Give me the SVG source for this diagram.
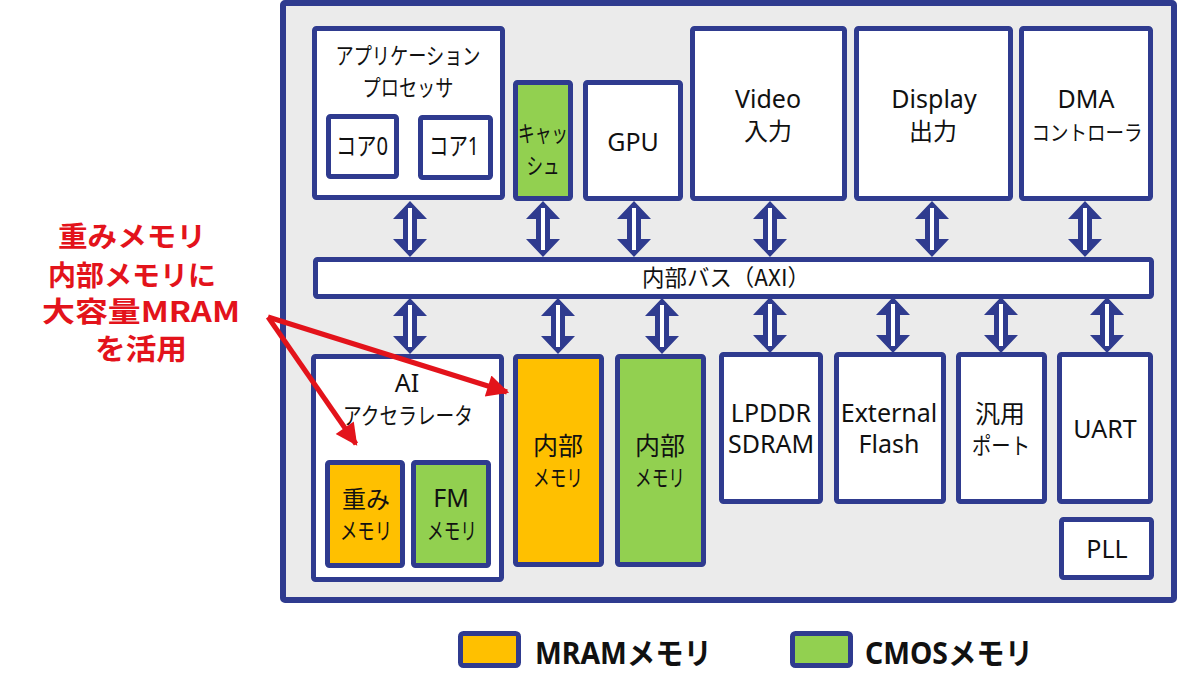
<svg xmlns="http://www.w3.org/2000/svg" width="1179" height="689" viewBox="0 0 1179 689">
<style>
.box{fill:#ffffff;stroke:#2f3b8f;stroke-width:5;}
.org{fill:#ffc000;stroke:#2f3b8f;stroke-width:5;}
.grn{fill:#92d050;stroke:#2f3b8f;stroke-width:5;}
.t{font-family:"Noto Sans","Noto Sans CJK JP",sans-serif;font-size:25px;fill:#111;text-anchor:middle;}
.k{font-family:"Noto Sans CJK JP","Noto Sans",sans-serif;font-size:23px;fill:#111;text-anchor:middle;}
.red{font-family:"Noto Sans CJK JP","Noto Sans",sans-serif;font-weight:700;font-size:28px;fill:#e3131b;text-anchor:middle;}
.leg{font-family:"Noto Sans","Noto Sans CJK JP",sans-serif;font-weight:700;font-size:30px;fill:#111;}
.ra{stroke:#e3131b;stroke-width:5;fill:none;}
</style>
<defs>
<g id="dbl">
<path d="M0,0 L17,18 L7,18 L7,38 L17,38 L0,56 L-17,38 L-7,38 L-7,18 L-17,18 Z" fill="#2f3b8f"/>
<rect x="-2" y="7" width="4" height="42" fill="#ffffff"/>
</g>
<marker id="rh" viewBox="0 0 10 10" refX="9" refY="5" markerWidth="24" markerHeight="22" markerUnits="userSpaceOnUse" orient="auto">
<path d="M0,0 L10,5 L0,10 Z" fill="#e3131b"/>
</marker>
</defs>
<rect id="chip" x="283" y="3" width="891" height="597" fill="#ebebeb" stroke="#2f3b8f" stroke-width="6" rx="2"/>

<g id="connectors">
<use href="#dbl" x="410" y="201"/>
<use href="#dbl" x="543" y="201"/>
<use href="#dbl" x="634" y="201"/>
<use href="#dbl" x="770" y="201"/>
<use href="#dbl" x="932" y="201"/>
<use href="#dbl" x="1085" y="201"/>
<use href="#dbl" x="410" y="298"/>
<use href="#dbl" x="558" y="298"/>
<use href="#dbl" x="662" y="298"/>
<use href="#dbl" x="770" y="297"/>
<use href="#dbl" x="893" y="297"/>
<use href="#dbl" x="1001" y="297"/>
<use href="#dbl" x="1107" y="297"/>
</g>

<g id="app">
<rect class="box" x="314.5" y="28.5" width="188" height="169" rx="2"/>
<text class="k" x="408" y="64" textLength="145" lengthAdjust="spacingAndGlyphs">アプリケーション</text>
<text class="k" x="408" y="96" textLength="91" lengthAdjust="spacingAndGlyphs">プロセッサ</text>
</g>
<g id="core0">
<rect class="box" x="328.5" y="116.5" width="68" height="60" rx="2"/>
<text class="t" x="362" y="155" textLength="52" lengthAdjust="spacingAndGlyphs">コア0</text>
</g>
<g id="core1">
<rect class="box" x="420.5" y="117.5" width="70" height="60" rx="2"/>
<text class="t" x="454" y="155" textLength="50" lengthAdjust="spacingAndGlyphs">コア1</text>
</g>
<g id="cache">
<rect class="grn" x="515.5" y="82.5" width="55" height="116" rx="2"/>
<text class="k" x="543" y="142" textLength="50" lengthAdjust="spacingAndGlyphs">キャッ</text>
<text class="k" x="543" y="174" textLength="33" lengthAdjust="spacingAndGlyphs">シュ</text>
</g>
<g id="gpu">
<rect class="box" x="585.5" y="82.5" width="95" height="116" rx="2"/>
<text class="t" x="633" y="151">GPU</text>
</g>
<g id="video">
<rect class="box" x="692.5" y="28.5" width="152" height="170" rx="2"/>
<text class="t" x="768" y="108">Video</text>
<text class="k" x="768" y="140" style="font-size:24px">入力</text>
</g>
<g id="display">
<rect class="box" x="856.5" y="28.5" width="154" height="170" rx="2"/>
<text class="t" x="934" y="108">Display</text>
<text class="k" x="933" y="140" style="font-size:24px">出力</text>
</g>
<g id="dma">
<rect class="box" x="1021.5" y="28.5" width="129" height="170" rx="2"/>
<text class="t" x="1086" y="108">DMA</text>
<text class="k" x="1087" y="140" style="font-size:21px" textLength="111" lengthAdjust="spacingAndGlyphs">コントローラ</text>
</g>
<g id="bus">
<rect class="box" x="315.5" y="259.5" width="836" height="37" rx="2"/>
<text class="k" x="726" y="286" textLength="168" lengthAdjust="spacingAndGlyphs">内部バス（AXI）</text>
</g>
<g id="ai">
<rect class="box" x="313.5" y="356.5" width="188" height="223" rx="2"/>
<text class="t" x="407" y="392">AI</text>
<text class="k" x="408" y="424" textLength="130" lengthAdjust="spacingAndGlyphs">アクセラレータ</text>
</g>
<g id="weight">
<rect class="org" x="327.5" y="462.5" width="75" height="103" rx="2"/>
<text class="k" x="366" y="508" style="font-size:24px" textLength="48" lengthAdjust="spacingAndGlyphs">重み</text>
<text class="k" x="366" y="539" textLength="52" lengthAdjust="spacingAndGlyphs">メモリ</text>
</g>
<g id="fm">
<rect class="grn" x="413.5" y="462.5" width="75" height="103" rx="2"/>
<text class="t" x="451" y="507">FM</text>
<text class="k" x="452" y="539" textLength="50" lengthAdjust="spacingAndGlyphs">メモリ</text>
</g>
<g id="mem-mram">
<rect class="org" x="515.5" y="356.5" width="86" height="208" rx="2"/>
<text class="k" x="558" y="455" style="font-size:25px">内部</text>
<text class="k" x="558" y="486" textLength="50" lengthAdjust="spacingAndGlyphs">メモリ</text>
</g>
<g id="mem-cmos">
<rect class="grn" x="617.5" y="356.5" width="86" height="208" rx="2"/>
<text class="k" x="660" y="455" style="font-size:25px">内部</text>
<text class="k" x="660" y="486" textLength="50" lengthAdjust="spacingAndGlyphs">メモリ</text>
</g>
<g id="lpddr">
<rect class="box" x="721.5" y="354.5" width="99" height="147" rx="2"/>
<text class="t" x="771" y="422">LPDDR</text>
<text class="t" x="771" y="453">SDRAM</text>
</g>
<g id="flash">
<rect class="box" x="836.5" y="354.5" width="107" height="147" rx="2"/>
<text class="t" x="889" y="422">External</text>
<text class="t" x="889" y="453">Flash</text>
</g>
<g id="port">
<rect class="box" x="958.5" y="354.5" width="86" height="147" rx="2"/>
<text class="k" x="1000" y="423" style="font-size:25px">汎用</text>
<text class="k" x="1001" y="454" textLength="58" lengthAdjust="spacingAndGlyphs">ポート</text>
</g>
<g id="uart">
<rect class="box" x="1059.5" y="354.5" width="91" height="147" rx="2"/>
<text class="t" x="1105" y="438">UART</text>
</g>
<g id="pll">
<rect class="box" x="1061.5" y="519.5" width="90" height="58" rx="2"/>
<text class="t" x="1107" y="558">PLL</text>
</g>

<g id="note">
<text class="red" x="132" y="247" textLength="148" lengthAdjust="spacingAndGlyphs">重みメモリ</text>
<text class="red" x="132" y="286" textLength="168" lengthAdjust="spacingAndGlyphs">内部メモリに</text>
<text class="red" x="141" y="322" textLength="198" lengthAdjust="spacingAndGlyphs">大容量MRAM</text>
<text class="red" x="141" y="360" style="font-size:29px" textLength="92" lengthAdjust="spacingAndGlyphs">を活用</text>
</g>
<g id="note-arrows">
<line class="ra" x1="268" y1="317" x2="356" y2="444" marker-end="url(#rh)"/>
<line class="ra" x1="268" y1="317" x2="507" y2="392" marker-end="url(#rh)"/>
</g>

<g id="legend">
<rect class="org" x="460.5" y="633.5" width="58" height="32" rx="3"/>
<text class="leg" x="535" y="664" textLength="177" lengthAdjust="spacingAndGlyphs">MRAMメモリ</text>
<rect class="grn" x="792.5" y="633.5" width="58" height="32" rx="3"/>
<text class="leg" x="865" y="664" textLength="168" lengthAdjust="spacingAndGlyphs">CMOSメモリ</text>
</g>
</svg>
